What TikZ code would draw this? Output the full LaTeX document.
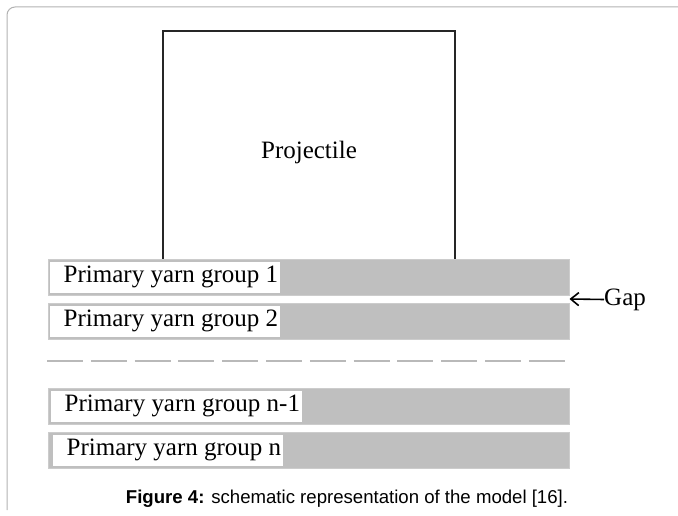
\documentclass[tikz,border=0pt]{standalone}
\usepackage{fontspec}
\setmainfont{Liberation Serif}
\newfontfamily\capfont{Liberation Sans}
\usepackage{xcolor}
\usepackage{tikz}
\usetikzlibrary{arrows.meta,positioning,calc}

\newcommand{\yarnfont}{\fontsize{25pt}{30pt}\selectfont}

\tikzset{
  yarnbar/.style={fill=gray!50, draw=gray!40, line width=1pt, minimum width=521, minimum height=36, inner sep=0pt},
  yarnlabel/.style={fill=white, anchor=west, inner xsep=2pt, inner ysep=0pt, minimum height=31, font=\yarnfont, execute at begin node=\hspace*{12pt}},
  projbox/.style={draw=black!85, line width=2pt, minimum width=292, minimum height=229, inner sep=0pt},
  gaparrow/.style={-{Straight Barb[length=8pt,width=13pt,line width=1.6pt]}, line width=1.6pt}
}

\begin{document}
\begin{tikzpicture}[x=1pt, y=-1pt]
\useasboundingbox (0,0) rectangle (678,516);

% outer frame
\draw[gray!60, line width=1pt, rounded corners=8pt] (7,510) -- (7,7) -- (678,7);

% Projectile
\node[projbox] (proj) at (309,146) {};
\node[font=\yarnfont] (projtext) at ([yshift=-6pt]proj.center) {Projectile};

% yarn groups
\node[yarnbar] (g1) at (308.5,277) {};
\node[yarnbar] (g2) at (308.5,321) {};
\node[yarnbar] (gn1) at (308.5,406) {};
\node[yarnbar] (gn) at (308.5,450) {};

\node[yarnlabel] (l1) at ([xshift=2pt]g1.west) {Primary yarn group 1};
\node[yarnlabel] (l2) at ([xshift=2pt]g2.west) {Primary yarn group 2};
\node[yarnlabel] (ln1) at ([xshift=3pt]gn1.west) {Primary yarn group n-1};
\node[yarnlabel] (ln) at ([xshift=5pt]gn.west) {Primary yarn group n};

% omitted groups
\draw[gray!55, line width=1.8pt, dash pattern=on 36pt off 7.8pt] (47,361) -- (565,361);

% Gap
\coordinate (gapend) at ($(g1.south east)!0.5!(g2.north east)$);
\node[font=\yarnfont, anchor=west, inner sep=0pt] (gap) at (604,299.5) {Gap};
\draw[gaparrow] (gap.west) -- (gapend);

% caption
\node[font=\capfont\fontsize{18.6pt}{22pt}\selectfont, anchor=base] (caption) at (347,503)
  {\textbf{Figure 4:} schematic representation of the model [16].};
\end{tikzpicture}
\end{document}
